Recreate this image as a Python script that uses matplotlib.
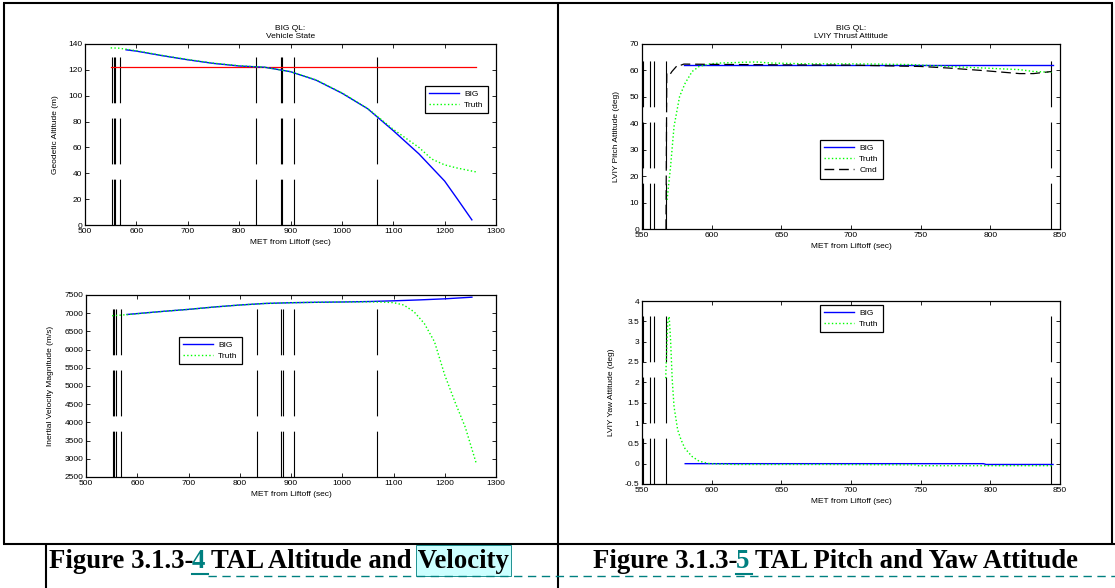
import matplotlib
matplotlib.use('Agg')
import matplotlib.pyplot as plt
from matplotlib.lines import Line2D
from matplotlib.ticker import FormatStrFormatter

plt.rcParams['font.family'] = ['Liberation Sans', 'DejaVu Sans']
plt.rcParams['lines.scale_dashes'] = False

W, H = 1115, 588

# ---- altitude (top left) ----
big_t_alt = [580, 600, 650, 700, 750, 800, 850, 900, 950, 1000, 1050, 1100, 1150, 1200, 1225, 1253]
big_alt = [135.5, 134.5, 131, 127.8, 125, 123, 122, 118.6, 112, 102, 90, 73, 55, 34, 20, 4]
truth_t_alt = [550, 565, 580, 600, 650, 700, 750, 800, 850, 900, 950, 1000, 1050, 1100, 1150,
               1175, 1200, 1225, 1262]
truth_alt = [137, 136.8, 136, 134.8, 131.2, 128, 125.2, 123.2, 122, 118.6, 112.2, 102.2, 90.2,
             74, 60, 51, 46.5, 44, 41]
ref_alt = 122
ref_t = [550, 1262]

# ---- velocity (bottom left) ----
big_t_vel = [580, 650, 700, 750, 800, 850, 900, 950, 1000, 1050, 1100, 1150, 1200, 1253]
big_vel = [6965, 7050, 7105, 7170, 7225, 7268, 7288, 7300, 7308, 7320, 7340, 7365, 7395, 7440]
truth_t_vel = [551, 580, 650, 700, 750, 800, 850, 900, 950, 1000, 1050, 1080, 1100, 1120, 1140,
               1160, 1180, 1200, 1220, 1240, 1262]
truth_vel = [6930, 6960, 7050, 7105, 7170, 7225, 7268, 7288, 7300, 7308, 7312, 7305, 7290, 7225,
             7040, 6720, 6215, 5300, 4560, 3870, 2850]

# ---- pitch (top right) ----
big_t_pitch = [580, 845]
big_pitch = [62.2, 62.2]
truth_t_pitch = [568, 570.5, 573, 577, 581, 586, 591, 599, 606, 624, 632, 642, 668, 693, 719, 744,
                 770, 796, 821, 831, 844]
truth_pitch = [11, 23.6, 38.8, 50.2, 55.2, 59.6, 61.5, 62.5, 62.8, 63.1, 63.2, 62.8, 62.5, 62.5,
               62.4, 62.2, 61.5, 60.9, 60.3, 59.6, 59.3]
cmd_t_pitch = [567.2, 567.8, 570, 571.5, 575.5, 577, 580, 600, 650, 700, 750, 770, 796, 821, 831, 844]
cmd_pitch = [0, 59, 58.4, 59.6, 62, 61.8, 62.4, 62.3, 62.1, 62, 61.5, 60.9, 59.9, 58.8, 58.8, 59.6]

# ---- yaw (bottom right) ----
big_t_yaw = [581, 795, 797, 845]
big_yaw = [0, 0, -0.02, -0.02]
truth_t_yaw = [567, 568.5, 569.5, 570.5, 571.7, 573, 575.6, 578, 580.7, 585.8, 591, 598.6, 616,
               680, 746, 747, 844]
truth_yaw = [2.1, 3.5, 3.62, 3.05, 2.06, 1.4, 0.83, 0.59, 0.38, 0.18, 0.06, 0.0, -0.02, -0.02,
             -0.03, -0.05, -0.05]

# event markers
left_events = [552, 555.5, 558.5, 567.5, 833, 881, 884, 906, 1068]
right_events = [550.4, 555.8, 558.4, 567, 843.7]

# captions: (before number, number, after number)
caption_left = ('Figure 3.1.3-', '4', 'TAL Altitude and Velocity')
caption_right = ('Figure 3.1.3-', '5', 'TAL Pitch and Yaw Attitude')

BLUE = (0, 0, 1)
GREEN = (0, 1, 0)
TEAL = '#008080'


def rect(x0, y0, x1, y1):
    return [x0 / W, 1 - y1 / H, (x1 - x0) / W, (y1 - y0) / H]


def style(ax, xlim, ylim, xticks, yticks, ylabel, ylab_x):
    ax.set_xlim(xlim)
    ax.set_ylim(ylim)
    ax.set_xticks(xticks)
    ax.set_yticks(yticks)
    ax.tick_params(direction='in', top=True, right=True, length=3, width=0.6,
                   labelsize=6, pad=2)
    ax.set_xlabel('MET from Liftoff (sec)', fontsize=6, labelpad=3)
    ax.set_ylabel(ylabel, fontsize=6)
    ax.yaxis.set_label_coords(ylab_x, 0.5)
    for s in ax.spines.values():
        s.set_linewidth(0.9)


def events(ax, xs, y0, y1):
    for x in xs:
        ax.plot([x, x], [y0, y1], color='k', lw=0.8, dashes=(33, 11))


def legend(ax, x0, y0, with_cmd=False):
    handles = [Line2D([], [], color=BLUE, lw=1), Line2D([], [], color=GREEN, lw=1, ls=':')]
    labels = ['BIG', 'Truth']
    if with_cmd:
        handles.append(Line2D([], [], color='k', lw=1, dashes=(7, 3.5)))
        labels.append('Cmd')
    leg = ax.legend(handles, labels, loc='upper left', bbox_to_anchor=(x0 / W, 1 - y0 / H),
                    bbox_transform=fig.transFigure, fontsize=6, fancybox=False,
                    edgecolor='k', framealpha=1, handlelength=3.6, borderpad=0.5,
                    labelspacing=0.4, handletextpad=0.6, borderaxespad=0)
    leg.get_frame().set_linewidth(0.9)


fig = plt.figure(figsize=(W / 100, H / 100), dpi=100)

# top left
ax1 = fig.add_axes(rect(85, 44, 496, 225))
events(ax1, left_events, 0, 130)
ax1.plot(ref_t, [ref_alt, ref_alt], color='r', lw=0.9)
ax1.plot(big_t_alt, big_alt, color=BLUE, lw=1)
ax1.plot(truth_t_alt, truth_alt, color=GREEN, lw=1, ls=':')
style(ax1, (500, 1300), (0, 140), range(500, 1301, 100), range(0, 141, 20),
      'Geodetic Altitude (m)', -0.063)
ax1.set_title('BIG QL:\nVehicle State', fontsize=6, pad=4, linespacing=1.25)
legend(ax1, 425, 86)

# bottom left
ax2 = fig.add_axes(rect(86, 295, 496, 477))
events(ax2, left_events, 2500, 7150)
ax2.plot(big_t_vel, big_vel, color=BLUE, lw=1)
ax2.plot(truth_t_vel, truth_vel, color=GREEN, lw=1, ls=':')
style(ax2, (500, 1300), (2500, 7500), range(500, 1301, 100), range(2500, 7501, 500),
      'Inertial Velocity Magnitude (m/s)', -0.078)
legend(ax2, 179, 337)

# top right
ax3 = fig.add_axes(rect(642, 44, 1060, 229))
events(ax3, right_events, 0, 64)
ax3.plot(big_t_pitch, big_pitch, color=BLUE, lw=1)
ax3.plot(truth_t_pitch, truth_pitch, color=GREEN, lw=1, ls=':')
ax3.plot(cmd_t_pitch, cmd_pitch, color='k', lw=0.9, dashes=(7, 3.5))
style(ax3, (550, 850), (0, 70), range(550, 851, 50), range(0, 71, 10),
      'LVIY Pitch Attitude (deg)', -0.052)
ax3.set_title('BIG QL:\nLVIY Thrust Attitude', fontsize=6, pad=4, linespacing=1.25)
legend(ax3, 820, 140, with_cmd=True)

# bottom right
ax4 = fig.add_axes(rect(642, 301, 1060, 484))
events(ax4, right_events, -0.5, 3.62)
ax4.plot(big_t_yaw, big_yaw, color=BLUE, lw=1)
ax4.plot(truth_t_yaw, truth_yaw, color=GREEN, lw=1, ls=':')
style(ax4, (550, 850), (-0.5, 4), range(550, 851, 50), [-0.5 + 0.5 * i for i in range(10)],
      'LVIY Yaw Attitude (deg)', -0.065)
ax4.yaxis.set_major_formatter(FormatStrFormatter('%g'))
legend(ax4, 820, 305)

# table frame and captions (pixel coordinates)
ov = fig.add_axes([0, 0, 1, 1])
ov.set_xlim(0, W)
ov.set_ylim(H, 0)
ov.axis('off')
kw = dict(color='k', lw=1.5, solid_capstyle='butt')
ov.plot([3, 1113], [3, 3], **kw)
ov.plot([4, 4], [3, 544], **kw)
ov.plot([558, 558], [3, H], **kw)
ov.plot([1112, 1112], [3, 544], **kw)
ov.plot([3, W], [544, 544], **kw)
ov.plot([46, 46], [544, H], **kw)

renderer = fig.canvas.get_renderer()
cap_kw = dict(fontsize=19.3, fontweight='bold', family='Liberation Serif', va='baseline',
              ha='left', zorder=3)


def width(s):
    t = ov.text(0, 0, s, **cap_kw)
    w = t.get_window_extent(renderer).width
    t.remove()
    return w


def caption(x0, parts, highlight=None):
    head, num, tail = parts
    ov.text(x0, 568, head, color='k', **cap_kw)
    nx = x0 + width(head + num) - width(num) - 2
    ov.text(nx, 568, num, color=TEAL, **cap_kw)
    nw = width(num)
    ov.plot([nx, nx + nw + 3], [574, 574], color=TEAL, lw=1.5)
    tx = x0 + width(head + num + ' ' + tail[0]) - width(tail[0]) - 2
    ov.text(tx, 568, tail, color='k', **cap_kw)
    if highlight:
        end = tx + width(tail)
        hx = end - width(highlight) - 2
        ov.add_patch(plt.Rectangle((hx, 545), end + 2 - hx, 31, facecolor='#ccffff',
                                   edgecolor=TEAL, lw=0.6, zorder=1))
    return nx + nw + 3


dash_start = caption(49, caption_left, highlight='Velocity')
caption(593, caption_right)
ov.plot([dash_start, W], [576, 576], color=TEAL, lw=1, dashes=(6, 4))

fig.savefig('out.png', dpi=100)
